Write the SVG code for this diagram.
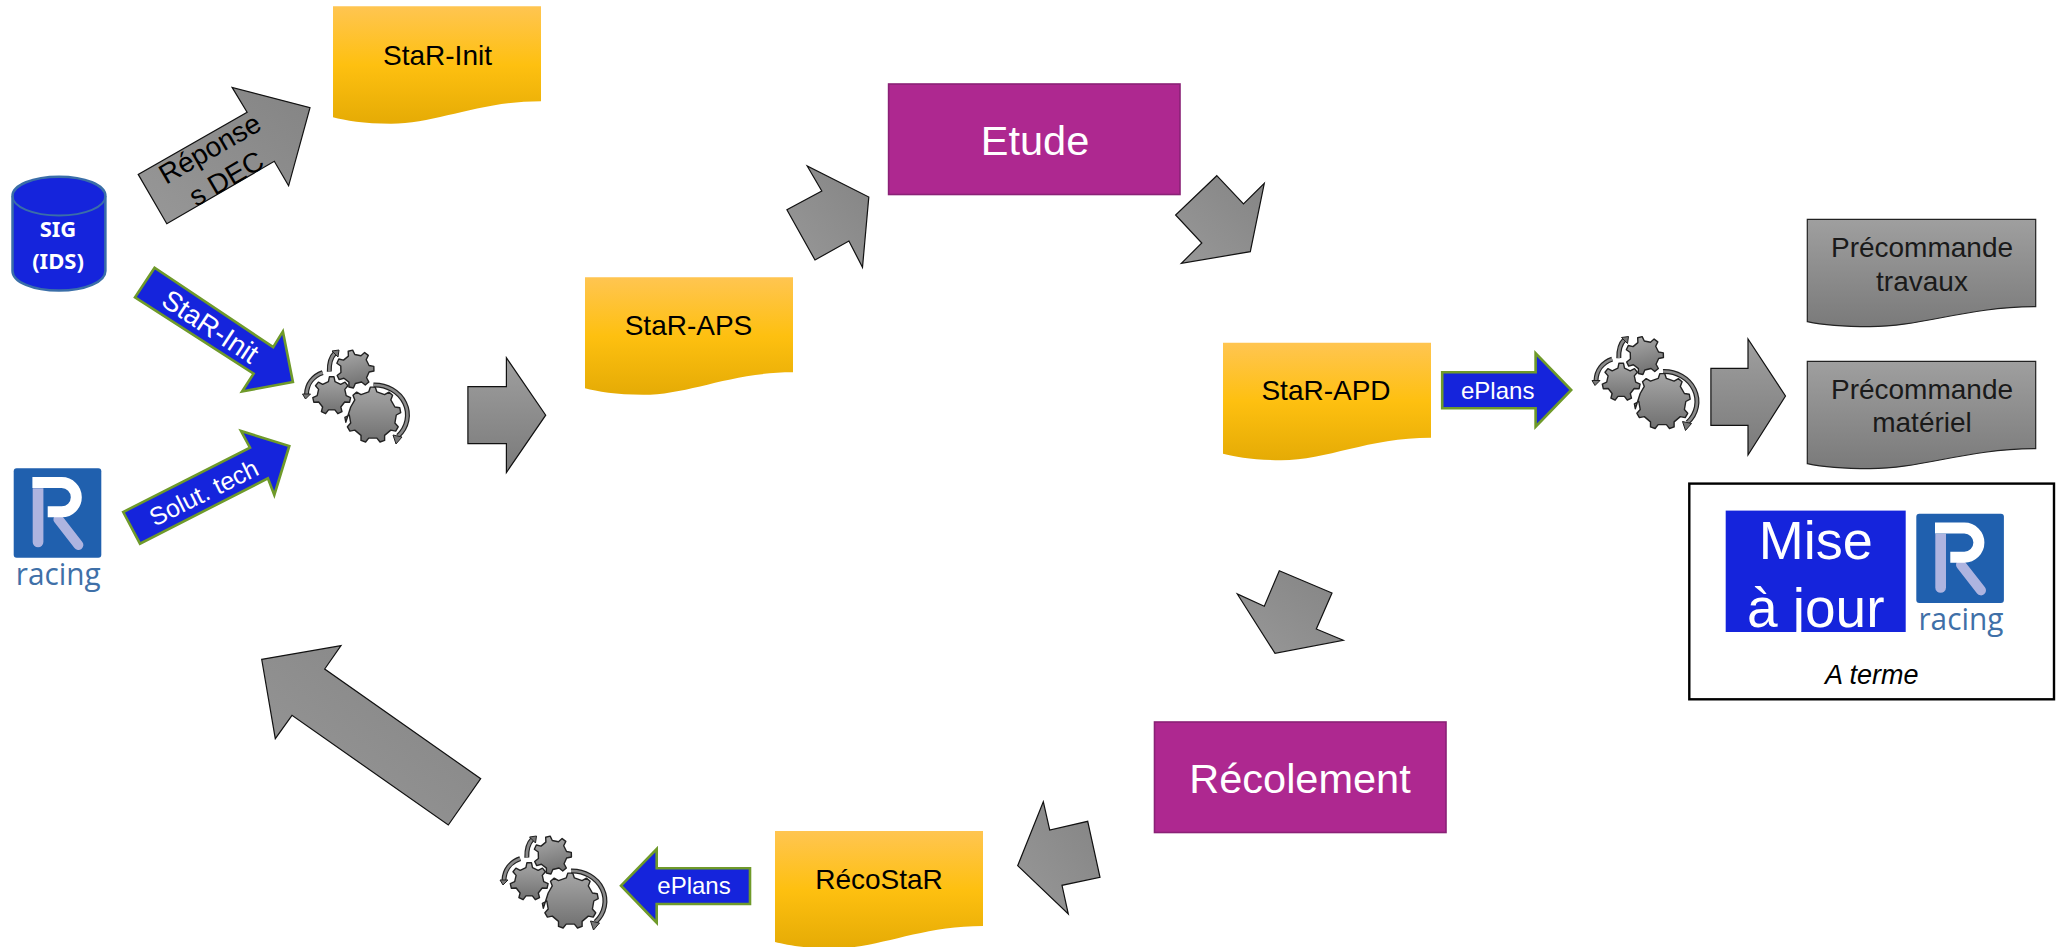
<svg xmlns="http://www.w3.org/2000/svg" xmlns:xlink="http://www.w3.org/1999/xlink" width="2063" height="947" viewBox="0 0 2063 947">
<style>
text{font-family:"Liberation Sans",Arial,sans-serif;text-anchor:middle}
.t28{font-size:28px;fill:#000}
.t24{font-size:24px;fill:#fff}
.t41{font-size:41.5px;fill:#fff}
.sig{font-family:"Noto Sans",sans-serif;font-weight:700;font-size:22px;fill:#fff}
.grey{fill:url(#gv);stroke:#111;stroke-width:1.2}
.greyd{fill:url(#gd);stroke:#111;stroke-width:1.2}
.blue{fill:#1524dc;stroke:#6f9a2a;stroke-width:2.6}
.proc{fill:#ae2890;stroke:#8a2176;stroke-width:1.6}
.gear{fill:url(#gv2);stroke:#222;stroke-width:1.4;stroke-linejoin:round}
.arcO{fill:none;stroke:#222;stroke-width:5}
.arcI{fill:none;stroke:#8a8a8a;stroke-width:2.6}
.head{fill:#777;stroke:#222;stroke-width:1}
</style>
<defs>
<linearGradient id="doc" x1="0" y1="0" x2="0" y2="1"><stop offset="0" stop-color="#ffc551"/><stop offset=".5" stop-color="#fec010"/><stop offset="1" stop-color="#e5ab05"/></linearGradient>
<linearGradient id="gv" x1="0" y1="0" x2="0" y2="1"><stop offset="0" stop-color="#9f9f9f"/><stop offset="1" stop-color="#7a7a7a"/></linearGradient>
<linearGradient id="gv2" x1="0" y1="0" x2="0" y2="1"><stop offset="0" stop-color="#a6a6a6"/><stop offset="1" stop-color="#707070"/></linearGradient>
<linearGradient id="gd" x1="0" y1="1" x2="1" y2="0"><stop offset="0" stop-color="#989898"/><stop offset="1" stop-color="#848484"/></linearGradient>
<path id="docshape" d="M0,0H208V95C145,95 104,117.5 58,117.5C31,117.5 12,114 0,111Z" fill="url(#doc)"/>
<path id="big" d="M-4.1,-23.1L-2.4,-27.9L2.4,-27.9L4.1,-23.1L11.8,-20.4L16.1,-22.9L19.8,-19.8L18,-15.1L22.1,-8L27,-7.2L27.9,-2.4L23.5,0L22.1,8L25.4,11.8L22.9,16.1L18,15.1L11.8,20.4L11.8,25.4L7.2,27L4.1,23.1L-4.1,23.1L-7.2,27L-11.8,25.4L-11.8,20.4L-18,15.1L-22.9,16.1L-25.4,11.8L-22.1,8L-23.5,0L-27.9,2.4L-27,7.2L-22.1,-8L-18,-15.1L-19.8,-19.8L-16.1,-22.9L-11.8,-20.4Z"/>
<path id="small" d="M-3.3,-14.1L-2.3,-18.9L2.3,-18.9L3.3,-14.1L9,-11.4L13.3,-13.6L16.2,-10L13.1,-6.3L14.5,0L18.9,2L17.9,6.5L13,6.3L9.1,11.3L10.3,16L6.1,18L3.2,14.2L-3.2,14.2L-6.1,18L-10.3,16L-9.1,11.3L-13,6.3L-17.9,6.5L-18.9,2L-14.5,0L-13.1,-6.3L-16.2,-10L-13.3,-13.6L-9,-11.4Z"/>
<g id="gears">
<use href="#big" class="gear" x="372.8" y="415"/>
<use href="#small" class="gear" x="331.7" y="395.7"/>
<use href="#small" class="gear" transform="translate(355,369) rotate(-14)"/>
<path class="arcO" d="M373.5,385A33,30 0 0 1 398,436"/><path class="arcI" d="M373.5,385A33,30 0 0 1 398,436"/>
<path class="head" d="M393,435L402,437L396,444Z"/>
<path class="arcO" d="M322.7,372.7C313,376 307,384 306.5,394"/><path class="arcI" d="M322.7,372.7C313,376 307,384 306.5,394"/>
<path class="head" d="M302.5,394L310.5,394L305.5,399Z"/>
<path class="arcO" d="M329.3,371.7C329,363 331,357 335,353"/><path class="arcI" d="M329.3,371.7C329,363 331,357 335,353"/>
<path class="head" d="M332,351L339,350L338,357Z"/>
</g>
<g id="logo">
<rect x="13.7" y="468.3" width="87.6" height="89.4" rx="3" fill="#2060ae"/>
<path d="M32.7,488.3H43.4V542a5.3,5.3 0 0 1 -10.7,0Z" fill="#aeb4e0"/>
<path d="M58.4,519.3L78.4,545" fill="none" stroke="#aeb4e0" stroke-width="10" stroke-linecap="round"/>
<path d="M32.4,482.6H61.7A14.6,14.6 0 0 1 61.7,511.8H47.7" fill="none" stroke="#fff" stroke-width="11"/>
<text x="58.3" y="585" style="font-family:'Open Sans',sans-serif;font-size:31px;fill:#3f70a8" textLength="85" lengthAdjust="spacingAndGlyphs">racing</text>
</g>
</defs>
<rect width="2063" height="947" fill="#fff"/>

<g id="connectors">
<g id="arrow-reponse"><polygon class="greyd" points="138.2,174.4 166.8,223.8 274.3,161.3 288.6,185.8 310,107.6 232.1,87.4 247.1,112.3"/>
<g transform="translate(209.6,148.3) rotate(-30)"><text class="t28" y="10">Réponse</text></g>
<g transform="translate(226,178) rotate(-30)"><text class="t28" y="10">s DEC</text></g></g>
<g id="arrow-starinit"><polygon class="blue" points="154.6,267.7 135,297.4 253.6,373.7 242.1,391.5 292.9,382 282.9,331.4 273.2,347.2"/>
<g transform="translate(210.7,326.2) rotate(33.5)"><text class="t28" style="fill:#fff" y="10">StaR-Init</text></g></g>
<g id="arrow-solut"><polygon class="blue" points="123.2,512 140,543.7 267.9,478.4 274.3,495 289.3,446 241,431 250,447.6"/>
<g transform="translate(203.6,492.3) rotate(-26.5)"><text style="font-size:25px;fill:#fff" y="9">Solut. tech</text></g></g>
<polygon id="arrow-aps" class="grey" points="467.9,386.7 467.9,443.7 506.4,443.7 506.4,472.5 545.7,415.2 506.4,357.8 506.4,386.7"/>
<polygon id="arrow-etude" class="greyd" points="807.2,166 821.8,191 786.9,209.7 815,260 848.9,241 862.5,267.3 868.8,197"/>
<polygon id="arrow-apd" class="greyd" points="1216.8,175.7 1243.5,204 1264.3,183.3 1250.3,251.7 1181.4,263.3 1201.8,243 1175.6,215"/>
<g id="arrow-eplans1"><polygon class="blue" points="1442.2,372.3 1442.2,408.3 1535.6,408.3 1535.6,426.7 1571.2,390 1535.6,353.3 1535.6,372.3"/>
<text class="t24" x="1497.7" y="399">ePlans</text></g>
<polygon id="arrow-precommande" class="grey" points="1710.9,368.3 1710.9,425.3 1748,425.3 1748,455 1785.5,396 1748,339 1748,368.3"/>
<polygon id="arrow-recol1" class="greyd" points="1279.3,570.7 1332,593 1316.3,629 1343.3,640.3 1275,653.3 1237.3,594 1264.3,606.3"/>
<polygon id="arrow-recol2" class="greyd" points="1043.3,801.7 1049.7,830 1087.7,821.3 1100,877.3 1062,885.3 1068.3,914 1017.7,865.7"/>
<g id="arrow-eplans2"><polygon class="blue" points="750,868.3 750,904 656.7,904 656.7,922.7 621,885.7 656.7,849 656.7,868.3"/>
<text class="t24" x="694" y="894">ePlans</text></g>
<polygon id="arrow-back" class="greyd" points="261.7,659.3 341,645.7 324.7,669 480.7,778.7 448.3,825 292,715.3 275.3,738.7"/>
</g>

<g id="node-sig">
<path d="M12.5,196V271C12.5,282 33,290.6 59,290.6S105.4,282 105.4,271V196C105.4,185 85,176.7 59,176.7S12.5,185 12.5,196Z" fill="#1524dc" stroke="#3a6ea8" stroke-width="2.5"/>
<path d="M12.5,196C12.5,207 33,215.5 59,215.5S105.4,207 105.4,196" fill="none" stroke="#3a6ea8" stroke-width="2"/>
<text class="sig" x="58" y="237">SIG</text>
<text class="sig" x="58" y="269">(IDS)</text>
</g>
<g id="node-racing"><use href="#logo"/></g>

<g id="node-starinit"><use href="#docshape" x="333" y="6.3"/><text class="t28" x="437.5" y="65">StaR-Init</text></g>
<g id="node-staraps"><use href="#docshape" x="585" y="277.3"/><text class="t28" x="688.5" y="335">StaR-APS</text></g>
<g id="node-starapd"><use href="#docshape" x="1223" y="342.7"/><text class="t28" x="1326" y="400">StaR-APD</text></g>
<g id="node-recostar"><use href="#docshape" x="775" y="831"/><text class="t28" x="879" y="889">RécoStaR</text></g>

<g id="node-etude"><rect class="proc" x="888.6" y="84" width="291.4" height="110.5"/><text class="t41" x="1035" y="155">Etude</text></g>
<g id="node-recolement"><rect class="proc" x="1154.5" y="722" width="291.5" height="110.5"/><text class="t41" x="1300" y="792.5">Récolement</text></g>

<g id="node-gears1"><use href="#gears"/></g>
<g id="node-gears2"><use href="#gears" x="1289.5" y="-13.5"/></g>
<g id="node-gears3"><use href="#gears" x="197.5" y="486"/></g>

<g id="node-precommande-travaux"><path d="M1807.3,219.3H2035.7V306.7C1967,306.7 1922,326.7 1870,326.7C1842,326.7 1820,324.5 1807.3,321.7Z" fill="url(#gv)" stroke="#222" stroke-width="1.2"/>
<text class="t28" style="fill:#1a1a1a" x="1922" y="257">Précommande</text><text class="t28" style="fill:#1a1a1a" x="1922" y="291">travaux</text></g>
<g id="node-precommande-materiel"><path d="M1807.3,361.3H2035.7V448.7C1967,448.7 1922,468.7 1870,468.7C1842,468.7 1820,466.5 1807.3,463.7Z" fill="url(#gv)" stroke="#222" stroke-width="1.2"/>
<text class="t28" style="fill:#1a1a1a" x="1922" y="399">Précommande</text><text class="t28" style="fill:#1a1a1a" x="1922" y="432">matériel</text></g>

<g id="node-mise-a-jour">
<rect x="1689.3" y="483.6" width="364.7" height="215.7" fill="#fff" stroke="#000" stroke-width="2.4"/>
<rect x="1725.7" y="510.6" width="180" height="121.4" fill="#1524dc"/>
<text style="font-size:54px;fill:#fff" x="1815.7" y="558.6">Mise</text>
<text style="font-size:55px;fill:#fff" x="1815.7" y="627">à jour</text>
<use href="#logo" x="1902.6" y="45.4"/>
<text style="font-size:27px;font-style:italic;fill:#000" x="1871.7" y="684">A terme</text>
</g>
</svg>
